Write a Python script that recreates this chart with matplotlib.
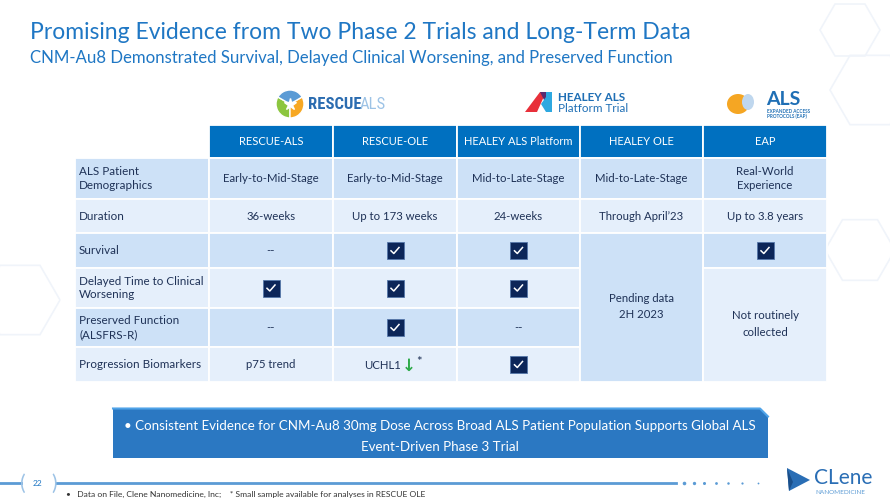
import matplotlib
matplotlib.use("Agg")
import matplotlib.pyplot as plt
from matplotlib.patches import Rectangle, Polygon, Wedge, Ellipse

plt.rcParams['font.family'] = ['Lato', 'DejaVu Sans']

# ---- slide content ----
title = "Promising Evidence from Two Phase 2 Trials and Long-Term Data"
subtitle = "CNM-Au8 Demonstrated Survival, Delayed Clinical Worsening, and Preserved Function"

columns = ["RESCUE-ALS", "RESCUE-OLE", "HEALEY ALS Platform", "HEALEY OLE", "EAP"]
row_labels = ["ALS Patient\nDemographics", "Duration", "Survival",
              "Delayed Time to Clinical\nWorsening", "Preserved Function\n(ALSFRS-R)",
              "Progression Biomarkers"]

# "check" = check box, None = covered by a merged cell
demographics = ["Early-to-Mid-Stage", "Early-to-Mid-Stage", "Mid-to-Late-Stage",
                "Mid-to-Late-Stage", "Real-World\nExperience"]
duration = ["36-weeks", "Up to 173 weeks", "24-weeks", "Through April\u201923", "Up to 3.8 years"]
survival = ["--", "check", "check", None, "check"]
delayed = ["check", "check", "check", None, None]
preserved = ["--", "check", "--", None, None]
biomarkers = ["p75 trend", "UCHL1", "check", None, None]
table_rows = [demographics, duration, survival, delayed, preserved, biomarkers]

# merged cells: (column, first row, last row, text)
merged = [(3, 2, 5, "Pending data\n2H 2023"),
          (4, 3, 5, "Not routinely\ncollected")]

callout = ["\u2022 Consistent Evidence for CNM-Au8 30mg Dose Across Broad ALS Patient Population Supports Global ALS",
           "Event-Driven Phase 3 Trial"]
footnote = "\u2022   Data on File, Clene Nanomedicine, Inc;    * Small sample available for analyses in RESCUE OLE"
page_no = "22"

# ---- layout (pixels) ----
col_edges = [75, 209, 333, 457, 580, 703, 827]
row_edges = [125, 158, 199, 233, 268, 308, 347, 382]

BLUE_T = '#1F77C4'
HEAD = '#0070C0'
DARK = '#CDE1F7'
LIGHT = '#E5EFFB'
TXT = '#1F3257'
NAVY = '#0C2659'

fig = plt.figure(figsize=(8.9, 5.01), dpi=100)
ax = fig.add_axes([0, 0, 1, 1])
ax.set_xlim(0, 890)
ax.set_ylim(501, 0)
ax.axis('off')

# faint background decoration
for cx, cy, r in [(870, 90, 40), (860, 250, 35), (20, 300, 40), (850, 30, 30)]:
    ax.add_patch(Polygon([(cx + r * c, cy + r * s) for c, s in
                          [(1, 0), (0.5, 0.866), (-0.5, 0.866), (-1, 0), (-0.5, -0.866), (0.5, -0.866)]],
                         closed=True, fill=False, ec='#F0F4FA', lw=1.2, zorder=0))

ax.text(30, 32, title, fontsize=16.5, color=BLUE_T, va='center', ha='left')
ax.text(30, 58, subtitle, fontsize=12.1, color=BLUE_T, va='center', ha='left')

# ---- logos ----
lx, ly = 290, 104
ax.add_patch(Wedge((lx, ly), 14, 90, 210, fc='#8CC63F', ec='white', lw=1))
ax.add_patch(Wedge((lx, ly), 14, -30, 90, fc='#F7A823', ec='white', lw=1))
ax.add_patch(Wedge((lx, ly), 14, 210, 330, fc='#5B9BD5', ec='white', lw=1))
ax.plot(lx, ly, marker='*', ms=9, color='white', mec='white')
ax.text(308, 104, "RESCUE", fontsize=12, fontweight='bold', color='#2B6CB0', va='center', ha='left',
        family=['Roboto Condensed', 'Liberation Sans Narrow', 'Lato'])
ax.text(360, 104, "ALS", fontsize=12, color='#9DC3E6', va='center', ha='left',
        family=['Roboto Condensed', 'Liberation Sans Narrow', 'Lato'])

ax.add_patch(Polygon([(525, 112), (540, 92), (546, 92), (537, 112)], fc='#E8303A', lw=0))
ax.add_patch(Polygon([(540, 92), (546, 92), (546, 104)], fc='#5B2A6E', lw=0))
ax.add_patch(Polygon([(546, 92), (552, 92), (552, 112), (546, 112), (541, 104), (546, 97)], fc='#2EA8E0', lw=0))
ax.text(558, 97, "HEALEY ALS", fontsize=8.4, fontweight='bold', color='#1F6FB5', va='center', ha='left')
ax.text(558, 108, "Platform Trial", fontsize=8.4, color='#1F6FB5', va='center', ha='left')

ax.add_patch(Ellipse((738, 104), 22, 20, fc='#F5A623', lw=0))
ax.add_patch(Ellipse((748, 102), 12, 16, fc='#BFD7EE', lw=0))
ax.text(766, 99, "ALS", fontsize=14, fontweight='bold', color='#1F6FB5', va='center', ha='left')
ax.text(767, 111, "EXPANDED ACCESS", fontsize=3.3, fontweight='bold', color='#1F6FB5', va='center', ha='left')
ax.text(767, 116, "PROTOCOLS (EAP)", fontsize=3.3, fontweight='bold', color='#1F6FB5', va='center', ha='left')

# ---- table ----
def cell_rect(c0, c1, r0, r1, color):
    ax.add_patch(Rectangle((col_edges[c0], row_edges[r0]),
                           col_edges[c1] - col_edges[c0], row_edges[r1] - row_edges[r0],
                           fc=color, ec='white', lw=1.3, zorder=1))


def check_box(x, y):
    ax.add_patch(Rectangle((x - 8.5, y - 8.5), 17, 17, fc=NAVY, ec='#5577AA', lw=0.6, zorder=3))
    ax.plot([x - 4, x - 1.2, x + 4], [y + 0.3, y + 3, y - 3], color='white', lw=1.1, zorder=4)


# header
for j, name in enumerate(columns):
    cell_rect(j + 1, j + 2, 0, 1, HEAD)
    ax.text((col_edges[j + 1] + col_edges[j + 2]) / 2, (row_edges[0] + row_edges[1]) / 2, name,
            fontsize=8, color='white', ha='center', va='center', zorder=5)

covered = set()
for c, r0, r1, text in merged:
    for r in range(r0, r1 + 1):
        covered.add((r, c))

for i, (label, values) in enumerate(zip(row_labels, table_rows)):
    color = DARK if i % 2 == 0 else LIGHT
    y0, y1 = row_edges[i + 1], row_edges[i + 2]
    yc = (y0 + y1) / 2
    cell_rect(0, 1, i + 1, i + 2, color)
    ax.text(col_edges[0] + 4, yc, label, fontsize=8.4, color=TXT, ha='left', va='center',
            linespacing=1.3, zorder=5)
    for j, v in enumerate(values):
        if (i, j) in covered:
            continue
        cell_rect(j + 1, j + 2, i + 1, i + 2, color)
        xc = (col_edges[j + 1] + col_edges[j + 2]) / 2
        if v == "check":
            check_box(xc, yc)
        elif v == "UCHL1":
            ax.text(xc + 6, yc + 1, v, fontsize=8.2, color=TXT, ha='right', va='center', zorder=5)
            ax.text(xc + 14, yc + 1, "\u2193", fontsize=12, fontweight='bold', color='#2EAA4A',
                    ha='center', va='center', family='DejaVu Sans', zorder=5)
            ax.text(xc + 21, yc - 3, "*", fontsize=9.5, color=TXT, ha='left', va='center', zorder=5)
        else:
            ax.text(xc, yc, v, fontsize=8.2, color=TXT, ha='center', va='center',
                    linespacing=1.35, zorder=5)

for c, r0, r1, text in merged:
    color = DARK if r0 % 2 == 0 else LIGHT
    cell_rect(c + 1, c + 2, r0 + 1, r1 + 2, color)
    ax.text((col_edges[c + 1] + col_edges[c + 2]) / 2, (row_edges[r0 + 1] + row_edges[r1 + 2]) / 2 - 1,
            text, fontsize=8.2, color=TXT, ha='center', va='center', linespacing=1.6, zorder=5)

# ---- callout box ----
ax.add_patch(Polygon([(113, 458), (113, 408), (760, 408), (768, 416), (768, 458)],
                     closed=True, fc='#2B78C2', ec='none', zorder=2))
ax.plot([113, 760, 768], [408.5, 408.5, 416.5], color='#4FA3E8', lw=1.5, zorder=3)
ax.text(440, 426, callout[0], fontsize=9.6, color='white', ha='center', va='center', zorder=4)
ax.text(440, 447, callout[1], fontsize=9.6, color='white', ha='center', va='center', zorder=4)

# ---- footer ----
ax.plot([0, 21], [483, 483], color='#5B9BD5', lw=2)
ax.plot([56, 676], [483, 483], color='#5B9BD5', lw=2)
for x, s in zip([684, 694, 704, 716, 728, 742, 758], [2.6, 2.4, 2.2, 2, 1.8, 1.6, 1.3]):
    ax.plot(x, 483, 'o', ms=s, color='#5B9BD5', mec='none')
ax.text(23, 484, "(", fontsize=15, color='#9DC3E6', ha='center', va='center')
ax.text(54, 484, ")", fontsize=15, color='#9DC3E6', ha='center', va='center')
ax.text(38, 484, page_no, fontsize=6, color='#1F77C4', ha='center', va='center')
ax.text(66, 494, footnote, fontsize=6.1, color='#333333', ha='left', va='center')

# clene logo
ax.add_patch(Polygon([(787, 468), (810, 480), (789, 491)], closed=True, fc='#2A6EB5', lw=0))
ax.add_patch(Polygon([(787, 468), (789, 491), (793, 482)], closed=True, fc='#1A4F8A', lw=0))
ax.text(814, 478, "CLene", fontsize=15, color='#2A6EB5', ha='left', va='center')
ax.text(815, 492, "NANOMEDICINE", fontsize=4.6, color='#5B9BD5', ha='left', va='center')

fig.savefig("out.png", dpi=100)
